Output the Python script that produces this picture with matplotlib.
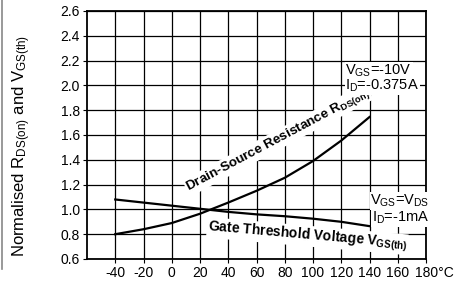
import matplotlib
matplotlib.use("Agg")
import matplotlib.pyplot as plt
import matplotlib.transforms as mtransforms
from matplotlib.lines import Line2D

plt.rcParams['font.family'] = ['Liberation Sans', 'DejaVu Sans']
plt.rcParams['mathtext.fontset'] = 'custom'
plt.rcParams['mathtext.rm'] = 'Liberation Sans'
plt.rcParams['mathtext.bf'] = 'Liberation Sans:bold'

# data
temp = [-40, -20, 0, 20, 40, 60, 80, 100, 120, 140]
rds_on = [0.80, 0.84, 0.89, 0.965, 1.055, 1.15, 1.255, 1.39, 1.555, 1.745]
vgs_th = [1.08, 1.055, 1.03, 1.005, 0.98, 0.96, 0.945, 0.925, 0.90, 0.865]

x_ticks = [-40, -20, 0, 20, 40, 60, 80, 100, 120, 140, 160, 180]
x_labels = ["-40", "-20", "0", "20", "40", "60", "80", "100", "120", "140", "160", "180°C"]
y_ticks = [0.6, 0.8, 1.0, 1.2, 1.4, 1.6, 1.8, 2.0, 2.2, 2.4, 2.6]

fig = plt.figure(figsize=(4.63, 2.81), dpi=100)
ax = fig.add_axes([87 / 463, 1 - 259 / 281, 339 / 463, 248 / 281])

ax.plot(temp, rds_on, color="black", lw=1.6, zorder=3)
ax.plot(temp, vgs_th, color="black", lw=1.6, zorder=3)

ax.set_xlim(-60, 180)
ax.set_ylim(0.6, 2.6)
ax.set_xticks(x_ticks)
ax.set_xticklabels(x_labels, fontsize=10)
ax.set_yticks(y_ticks)
ax.set_yticklabels(["%.1f" % v for v in y_ticks], fontsize=10)
ax.tick_params(direction="out", length=3, width=0.8, pad=2)
ax.grid(True, color="black", lw=0.9)
for s in ax.spines.values():
    s.set_linewidth(1.3)

# push the last label to the right like the original
lab = ax.get_xticklabels()[-1]
lab.set_transform(lab.get_transform() + mtransforms.ScaledTranslation(8 / 100, 0, fig.dpi_scale_trans))

ax.set_ylabel(r"Normalised R$\mathregular{_{DS(on)}}$ and V$\mathregular{_{GS(th)}}$", fontsize=12)
ax.yaxis.set_label_coords(-0.158, 0.456)

box = dict(facecolor="white", edgecolor="none", pad=0.5)
ax.text(75, 1.56, r"Drain-Source Resistance R$\mathregular{_{DS(on)}}$", rotation=28,
        ha="center", va="center", fontsize=9.7, fontweight="bold", bbox=box, zorder=4)
ax.text(96, 0.785, r"Gate Threshold Voltage V$\mathregular{_{GS(th)}}$", rotation=-5,
        ha="center", va="center", fontsize=10, fontweight="bold", bbox=box, zorder=4)

ax.text(123, 2.12, r"V$\mathregular{_{GS}}$=-10V", ha="left", va="center", fontsize=10.5, bbox=box, zorder=4)
ax.text(123, 1.995, r"I$\mathregular{_{D}}$=-0.375A", ha="left", va="center", fontsize=10.5, bbox=box, zorder=4)
ax.text(182.5, 1.07, r"V$\mathregular{_{GS}}$=V$\mathregular{_{DS}}$", ha="right", va="center", fontsize=10.5,
        bbox=box, zorder=4, clip_on=False)
ax.text(182.5, 0.93, r"I$\mathregular{_{D}}$=-1mA", ha="right", va="center", fontsize=10.5,
        bbox=box, zorder=4, clip_on=False)

# thin grey border on the left of the picture
fig.add_artist(Line2D([1.5 / 463, 1.5 / 463], [1 - 269 / 281, 1], color="#888888", lw=1.2))

fig.savefig("out.png", dpi=100)
